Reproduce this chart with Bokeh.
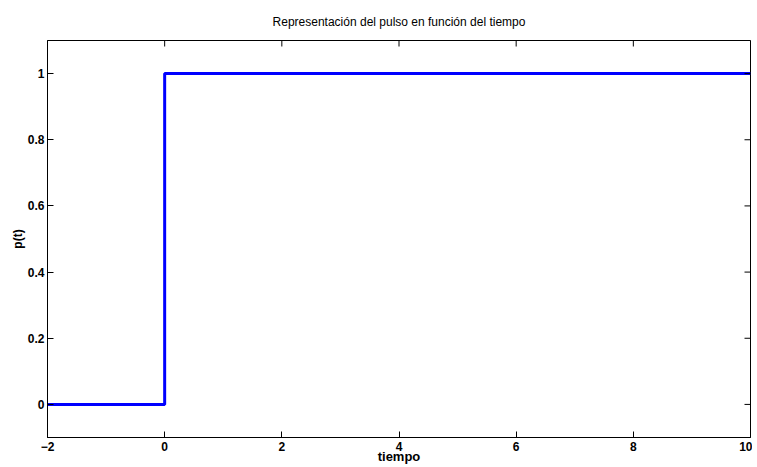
import math
from bokeh.plotting import figure
from bokeh.models import FixedTicker, Range1d
from bokeh.embed import file_html
from bokeh.resources import INLINE

# data
t = [-2, 0, 0, 10]
p_t = [0, 0, 1, 1]
x_ticks = [-2, 0, 2, 4, 6, 8, 10]
x_tick_labels = ["−2", "0", "2", "4", "6", "8", "10"]
y_ticks = [0, 0.2, 0.4, 0.6, 0.8, 1]
y_tick_labels = ["0", "0.2", "0.4", "0.6", "0.8", "1"]
x_min, x_max = -2, 10
y_min, y_max = -0.1, 1.1

FONT = "Liberation Sans"

p = figure(width=752, height=467, output_backend="svg", toolbar_location=None,
           x_range=Range1d(x_min, x_max), y_range=Range1d(y_min, y_max),
           x_axis_label="tiempo", y_axis_label="p(t)",
           title="Representación del pulso en función del tiempo",
           min_border_left=47, min_border_right=2, min_border_top=39, min_border_bottom=30)

p.line(t, p_t, line_color="#0000FF", line_width=3)

# ticks on the top and right edges (half of each dash is clipped by the frame)
p.scatter(x_ticks, [y_max] * len(x_ticks), marker="dash", size=12, angle=math.pi / 2,
          line_color="black", line_width=1)
p.scatter([x_max] * len(y_ticks), y_ticks, marker="dash", size=12,
          line_color="black", line_width=1)

p.xgrid.visible = False
p.ygrid.visible = False
p.outline_line_color = "black"
p.outline_line_width = 1
p.background_fill_color = "white"
p.border_fill_color = "white"

p.title.text_font = FONT
p.title.text_font_size = "12px"
p.title.text_font_style = "normal"
p.title.text_color = "black"
p.title.align = "center"
p.title.standoff = 24

def style(ax):
    ax.major_tick_in = 6
    ax.major_tick_out = 0
    ax.minor_tick_line_color = None
    ax.axis_line_color = "black"
    ax.major_tick_line_color = "black"
    ax.major_label_text_font = FONT
    ax.major_label_text_font_style = "bold"
    ax.major_label_text_font_size = "12px"
    ax.major_label_text_color = "black"
    ax.axis_label_text_font = FONT
    ax.axis_label_text_font_style = "bold"
    ax.axis_label_text_font_size = "12px"
    ax.axis_label_text_color = "black"
    ax.major_label_standoff = 3
    ax.axis_label_standoff = 0

xa = p.xaxis[0]
xa.ticker = FixedTicker(ticks=x_ticks)
xa.major_label_overrides = dict(zip(x_ticks, x_tick_labels))
style(xa)
xa.major_label_standoff = 4
xa.axis_label_standoff = -5
xa.axis_label_text_font_size = "13px"

ya = p.yaxis[0]
ya.ticker = FixedTicker(ticks=y_ticks)
ya.major_label_overrides = dict(zip(y_ticks, y_tick_labels))
style(ya)
ya.axis_label_standoff = 0

open("out.html", "w").write(file_html(p, INLINE))
